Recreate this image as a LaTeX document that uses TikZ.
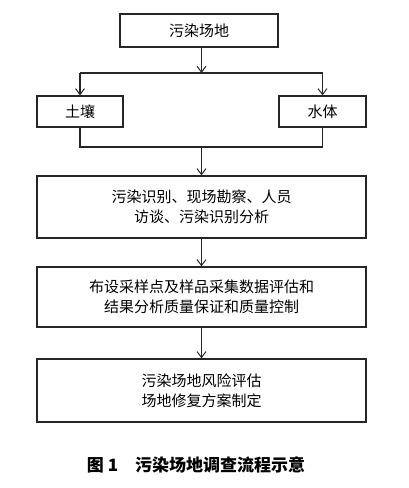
\documentclass[tikz,border=0pt]{standalone}
\usepackage{fontspec}
\setmainfont{Noto Sans CJK SC}
\usetikzlibrary{arrows.meta}
\tikzset{
  box/.style={draw=black!85, line width=1.2pt, rectangle, inner sep=0pt, align=center,
    font=\fontsize{15}{20}\selectfont},
  conn/.style={draw=black!85, line width=1.2pt},
  arr/.style={conn, -{Straight Barb[length=6pt,width=9pt,line width=1pt]}}
}
\begin{document}
\begin{tikzpicture}[x=1pt,y=-1pt]
\useasboundingbox (0,0) rectangle (409,488);
\node[box, minimum width=158pt, minimum height=33pt] (top) at (199,30.5) {污染场地};
\node[box, minimum width=86pt, minimum height=31pt] (soil) at (80,111.5) {土壤};
\node[box, minimum width=87pt, minimum height=31pt] (water) at (322.5,111.5) {水体};
\node[box, minimum width=329pt, minimum height=62pt] (b3) at (201.5,207) {污染识别、现场勘察、人员\\访谈、污染识别分析};
\node[box, minimum width=329pt, minimum height=60pt] (b4) at (201.5,297) {布设采样点及样品采集数据评估和\\结果分析质量保证和质量控制};
\node[box, minimum width=329pt, minimum height=63pt] (b5) at (201.5,390.5) {污染场地风险评估\\场地修复方案制定};
\coordinate (split) at (201.5,73);
\coordinate (join) at (201.5,147);
\draw[arr] (top.south -| split) -- (split);
\draw[conn] (soil.north |- split) -- (water.north |- split);
\draw[arr] (soil.north |- split) -- (soil.north);
\draw[arr] (water.north |- split) -- (water.north);
\draw[conn] (soil.south) -- (soil.south |- join) -- (water.south |- join) -- (water.south);
\draw[arr] (join) -- (b3.north);
\draw[arr] (b3.south) -- (b4.north);
\draw[arr] (b4.south) -- (b5.north);
\node[font=\fontsize{17}{20}\selectfont\bfseries] (cap) at (196,465) {图 1\quad 污染场地调查流程示意};
\end{tikzpicture}
\end{document}
